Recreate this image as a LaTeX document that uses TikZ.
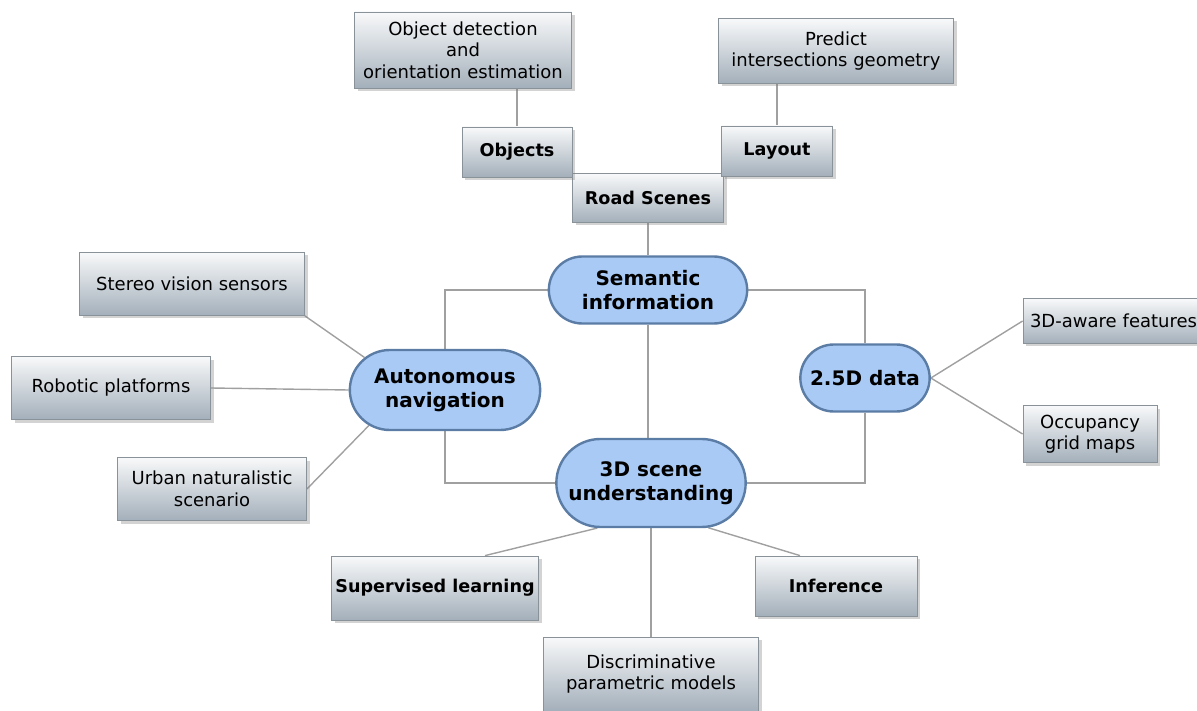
\documentclass[tikz,border=0pt]{standalone}
\usepackage{fontspec}
\setmainfont{DejaVu Sans}
\usetikzlibrary{shapes.misc, shadows, backgrounds}

\definecolor{boxline}{HTML}{8A9299}
\definecolor{boxtop}{HTML}{F8F9FA}
\definecolor{boxbottom}{HTML}{A3AFBA}
\definecolor{pillfill}{HTML}{A8CAF5}
\definecolor{pillline}{HTML}{5B7CA4}
\definecolor{linkgray}{HTML}{A0A0A0}

\tikzstyle{concept} = [rectangle, align=center, draw=boxline, line width=0.8pt, top color=boxtop, bottom color=boxbottom, drop shadow={shadow xshift=3pt, shadow yshift=-3pt, opacity=0.35}, font=\fontsize{18}{21.5}\selectfont]
\tikzstyle{keyconcept} = [concept, font=\fontsize{17.6}{21.5}\selectfont\bfseries]
\tikzstyle{topic} = [rounded rectangle, align=center, draw=pillline, line width=2.4pt, fill=pillfill, font=\fontsize{20}{24}\selectfont\bfseries]
\tikzstyle{link} = [draw=linkgray, line width=1.4pt]

\begin{document}
\begin{tikzpicture}[x=1pt, y=-1pt]
    \useasboundingbox (0,0) rectangle (1197,711);

    % top branch
    \node (objdet) [concept, minimum width=217pt, minimum height=76pt] at (463,50) {Object detection\\and\\orientation estimation};
    \node (predict) [concept, minimum width=235pt, minimum height=65pt] at (836,51) {Predict\\intersections geometry};
    \node (roadscenes) [keyconcept, minimum width=151pt, minimum height=49pt] at (648,198) {Road Scenes};
    \node (objects) [keyconcept, minimum width=110pt, minimum height=50pt] at (517,152) {Objects};
    \node (layout) [keyconcept, minimum width=111pt, minimum height=50pt] at (777,151) {Layout};

    % main topics
    \node (semantic) [topic, minimum width=205pt, minimum height=67pt] at (648,290) {Semantic\\information};
    \node (autonomous) [topic, minimum width=197pt, minimum height=80pt] at (445,390) {Autonomous\\navigation};
    \node (data25) [topic, minimum width=136pt, minimum height=67pt] at (865,378) {2.5D data};
    \node (scene3d) [topic, minimum width=196pt, minimum height=88pt] at (651,483) {3D scene\\understanding};

    % left branch
    \node (stereo) [concept, minimum width=225pt, minimum height=63pt] at (192,284) {Stereo vision sensors};
    \node (robotic) [concept, minimum width=199pt, minimum height=63pt] at (111,388) {Robotic platforms};
    \node (urban) [concept, minimum width=189pt, minimum height=63pt] at (212,489) {Urban naturalistic\\scenario};

    % right branch
    \node (features) [concept, minimum width=190pt, minimum height=45pt, text width=176pt, align=left] at (1118,321) {3D-aware features};
    \node (occupancy) [concept, minimum width=134pt, minimum height=57pt] at (1090,434) {Occupancy\\grid maps};

    % bottom branch
    \node (supervised) [keyconcept, minimum width=207pt, minimum height=64pt] at (435,588) {Supervised learning};
    \node (inference) [keyconcept, minimum width=162pt, minimum height=60pt] at (836,586) {Inference};
    \node (discrim) [concept, minimum width=215pt, minimum height=74pt] at (651,674) {Discriminative\\parametric models};

    \begin{scope}[on background layer]
    \draw [link] (objects.north) -- (objects.north |- objdet.south);
    \draw [link] (layout.north) -- (layout.north |- predict.south);
    \draw [link] (roadscenes.south) -- (semantic.north);

    \draw [link] (semantic.west) -| (autonomous.north);
    \draw [link] (semantic.east) -| (data25.north);
    \draw [link] (autonomous.south) |- (scene3d.west);
    \draw [link] (data25.south) |- (scene3d.east);
    \draw [link] (semantic.south) -- (semantic.south |- scene3d.north);

    \draw [link] (stereo.south east) -- (autonomous.158);
    \draw [link] (robotic.east) -- (autonomous.west);
    \draw [link] (urban.east) -- (autonomous.205);

    \draw [link] (data25.east) -- (features.west);
    \draw [link] (data25.east) -- (occupancy.west);

    \draw [link] (scene3d.220) -- ([xshift=50pt]supervised.north);
    \draw [link] (scene3d.322) -- ([xshift=-36pt]inference.north);
    \draw [link] (scene3d.south) -- (scene3d.south |- discrim.north);
    \end{scope}

\end{tikzpicture}
\end{document}
